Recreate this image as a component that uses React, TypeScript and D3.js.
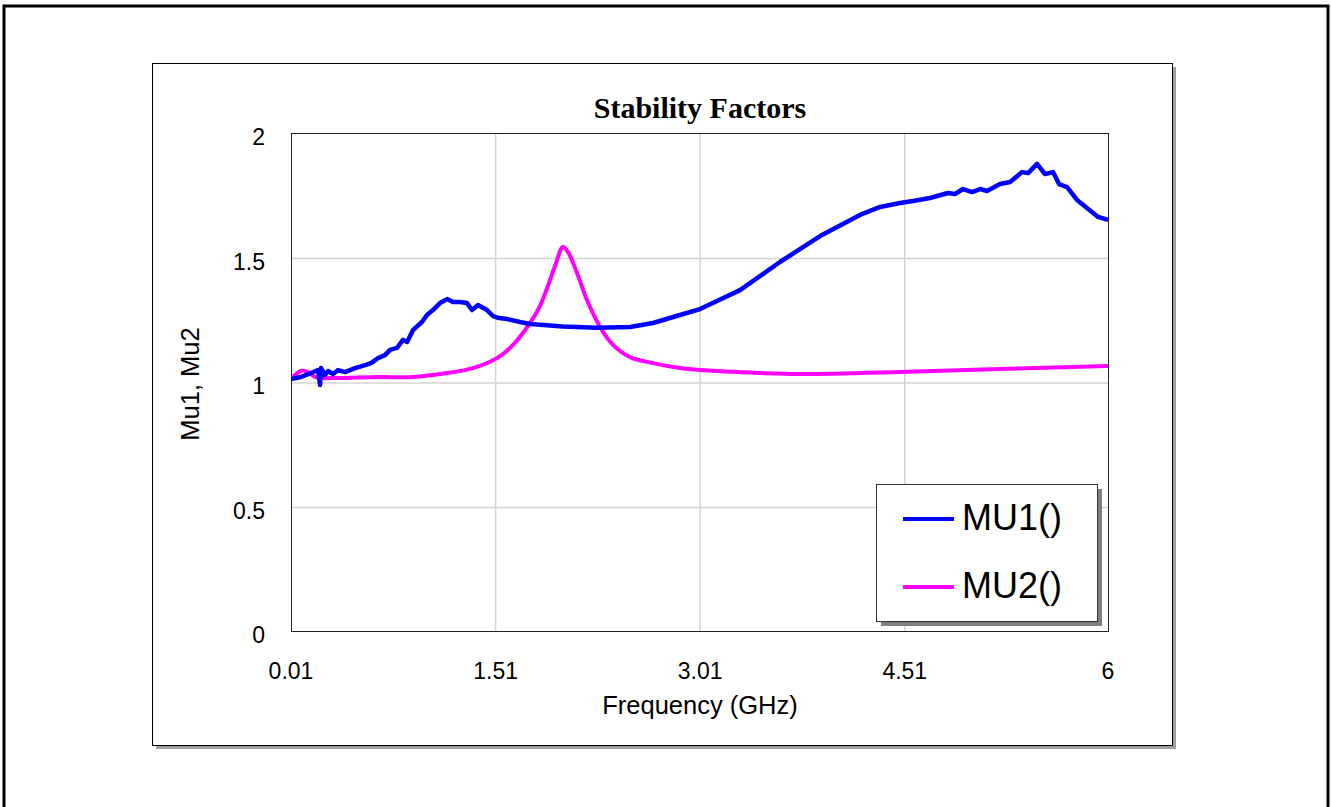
import React from "react";
import * as d3 from "d3";

// Frequency (GHz) / MU1 values
const mu1Freq = [
  0.01, 0.083, 0.157, 0.208, 0.223, 0.23, 0.259, 0.281, 0.318, 0.355, 0.406, 0.479, 0.553, 0.597, 0.648, 0.699,
  0.736, 0.787, 0.831, 0.861, 0.905, 0.97, 1.007, 1.051, 1.102, 1.154, 1.198, 1.249, 1.3, 1.337, 1.381, 1.447,
  1.491, 1.535, 1.594, 1.689, 1.762, 2.004, 2.254, 2.496, 2.664, 2.862, 3.009, 3.302, 3.595, 3.889, 4.182,
  4.329, 4.475, 4.571, 4.695, 4.827, 4.878, 4.937, 5.003, 5.062, 5.113, 5.208, 5.282, 5.37, 5.414, 5.48,
  5.538, 5.597, 5.641, 5.7, 5.773, 5.846, 5.927, 6.0,
];
const mu1Values = [
  1.016, 1.024, 1.04, 1.052, 0.992, 1.06, 1.032, 1.048, 1.036, 1.052, 1.044, 1.06, 1.072, 1.08, 1.1, 1.112,
  1.133, 1.141, 1.173, 1.165, 1.213, 1.245, 1.273, 1.293, 1.321, 1.337, 1.325, 1.325, 1.321, 1.293, 1.313, 1.293,
  1.269, 1.261, 1.257, 1.245, 1.237, 1.227, 1.222, 1.225, 1.241, 1.273, 1.297, 1.373, 1.486, 1.59, 1.675,
  1.707, 1.723, 1.731, 1.743, 1.763, 1.759, 1.779, 1.767, 1.779, 1.771, 1.799, 1.807, 1.847, 1.843, 1.88,
  1.839, 1.847, 1.799, 1.787, 1.735, 1.703, 1.667, 1.655,
];

// Frequency (GHz) / MU2 values
const mu2Freq = [
  0.01, 0.083, 0.135, 0.186, 0.23, 0.355, 0.663, 0.905, 1.154, 1.344, 1.52, 1.638, 1.762, 1.836, 1.887, 1.946,
  2.004, 2.041, 2.107, 2.18, 2.276, 2.371, 2.496, 2.664, 2.862, 3.009, 3.449, 3.742, 4.475, 5.208, 6.0,
];
const mu2Values = [
  1.016, 1.048, 1.044, 1.024, 1.02, 1.02, 1.024, 1.024, 1.04, 1.06, 1.1, 1.153, 1.24, 1.31, 1.38, 1.47,
  1.546, 1.526, 1.442, 1.333, 1.225, 1.153, 1.104, 1.08, 1.06, 1.052, 1.04, 1.036, 1.044, 1.056, 1.068,
];

const xTickValues = [0.01, 1.51, 3.01, 4.51, 6];
const xTickLabels = ["0.01", "1.51", "3.01", "4.51", "6"];
const yTickValues = [0, 0.5, 1, 1.5, 2];
const yTickLabels = ["0", "0.5", "1", "1.5", "2"];

const seriesNames = ["MU1()", "MU2()"];
const seriesColors = ["#0000ff", "#ff00ff"];

const W = 1331;
const H = 807;
const plot = { left: 291, right: 1108, top: 134, bottom: 632 };

export default function App() {
  const x = d3.scaleLinear().domain([0.01, 6]).range([plot.left, plot.right]);
  const y = d3.scaleLinear().domain([0, 2]).range([plot.bottom, plot.top]);

  const line1 = d3
    .line<number>()
    .x((_, i) => x(mu1Freq[i]))
    .y((d) => y(d))
    .curve(d3.curveLinear);
  const line2 = d3
    .line<number>()
    .x((_, i) => x(mu2Freq[i]))
    .y((d) => y(d))
    .curve(d3.curveCatmullRom.alpha(0.5));

  const sans = "Arial, 'Liberation Sans', Helvetica, sans-serif";
  const serif = "'Times New Roman', 'Liberation Serif', serif";

  const legend = { x: 876, y: 484, w: 221, h: 137 };

  return (
    <svg
      width={W}
      height={H}
      style={{ position: "fixed", left: 0, top: 0, background: "#fff" }}
    >
      <defs>
        <clipPath id="plotClip">
          <rect x={plot.left} y={plot.top - 4} width={plot.right - plot.left} height={plot.bottom - plot.top + 4} />
        </clipPath>
      </defs>
      <rect x={0} y={0} width={W} height={H} fill="#fff" />
      {/* outer frame */}
      <rect x={4} y={6} width={1324} height={830} fill="none" stroke="#000" strokeWidth={3} />

      {/* panel with shadow */}
      <rect x={156} y={67} width={1020} height={682} fill="#a0a0a0" />
      <rect x={152.5} y={63.5} width={1020} height={682} fill="#fff" stroke="#000" strokeWidth={1} />

      {/* title */}
      <text
        x={700}
        y={118}
        textAnchor="middle"
        fontFamily={serif}
        fontWeight="bold"
        fontSize={30}
        fill="#000"
      >
        Stability Factors
      </text>

      {/* grid */}
      {xTickValues.slice(1, -1).map((v) => (
        <line key={"gx" + v} x1={x(v)} x2={x(v)} y1={plot.top} y2={plot.bottom} stroke="#d4d4d4" strokeWidth={1.5} />
      ))}
      {yTickValues.slice(1, -1).map((v) => (
        <line key={"gy" + v} x1={plot.left} x2={plot.right} y1={y(v)} y2={y(v)} stroke="#d4d4d4" strokeWidth={1.5} />
      ))}

      {/* plot frame */}
      <rect
        x={plot.left + 0.5}
        y={plot.top - 0.5}
        width={plot.right - plot.left}
        height={plot.bottom - plot.top}
        fill="none"
        stroke="#222"
        strokeWidth={1}
      />

      {/* series */}
      <g clipPath="url(#plotClip)">
        <path d={line2(mu2Values) || ""} fill="none" stroke={seriesColors[1]} strokeWidth={4} strokeLinejoin="round" />
        <path d={line1(mu1Values) || ""} fill="none" stroke={seriesColors[0]} strokeWidth={4.5} strokeLinejoin="round" />
      </g>

      {/* y tick labels */}
      {yTickValues.map((v, i) => (
        <text key={"yt" + v} x={265} y={y(v) + 11} textAnchor="end" fontFamily={sans} fontSize={23} fill="#000">
          {yTickLabels[i]}
        </text>
      ))}
      {/* x tick labels */}
      {xTickValues.map((v, i) => (
        <text key={"xt" + v} x={x(v)} y={679} textAnchor="middle" fontFamily={sans} fontSize={23} fill="#000">
          {xTickLabels[i]}
        </text>
      ))}

      {/* axis titles */}
      <text x={700} y={714} textAnchor="middle" fontFamily={sans} fontSize={25.5} fill="#000">
        Frequency (GHz)
      </text>
      <text
        transform={`translate(199, 384) rotate(-90)`}
        textAnchor="middle"
        fontFamily={sans}
        fontSize={25.5}
        fill="#000"
      >
        Mu1, Mu2
      </text>

      {/* legend */}
      <rect x={legend.x + 5} y={legend.y + 5} width={legend.w} height={legend.h} fill="#808080" />
      <rect x={legend.x + 0.5} y={legend.y + 0.5} width={legend.w} height={legend.h} fill="#fff" stroke="#333" strokeWidth={1} />
      {seriesNames.map((name, i) => (
        <g key={name}>
          <line x1={903} x2={954} y1={519 + i * 68} y2={519 + i * 68} stroke={seriesColors[i]} strokeWidth={4} />
          <text x={962} y={530 + i * 68} fontFamily={sans} fontSize={36} fill="#000">
            {name}
          </text>
        </g>
      ))}
    </svg>
  );
}
